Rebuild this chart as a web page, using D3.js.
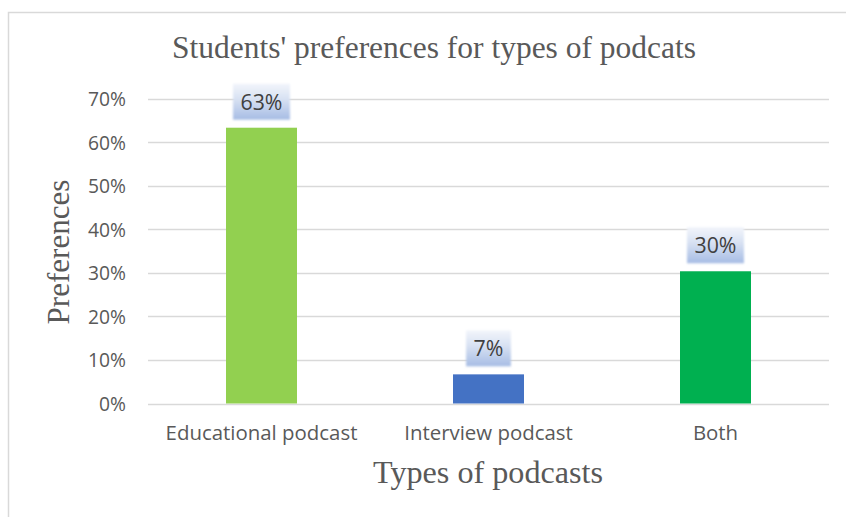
<!DOCTYPE html>
<html><head><meta charset="utf-8">
<script src="https://cdn.jsdelivr.net/npm/d3@7"></script>
<style>html,body{margin:0;padding:0;background:#fff;overflow:hidden}</style>
</head><body>
<script>
const categories = ["Educational podcast", "Interview podcast", "Both"];
const values = [0.634, 0.067, 0.304];
const colors = ["#92D050", "#4472C4", "#00B050"];
const yTicks = [0, 0.1, 0.2, 0.3, 0.4, 0.5, 0.6, 0.7];
const title = "Students' preferences for types of podcats";
const xTitle = "Types of podcasts";
const yTitle = "Preferences";

const W = 846, H = 517;
const svg = d3.select("body").append("svg").attr("width", W).attr("height", H);
const txt = "#595959";
const sans = "'Open Sans', 'Liberation Sans', sans-serif";
const serif = "'Liberation Serif', 'DejaVu Serif', serif";

// chart border
svg.append("rect").attr("x", 8.5).attr("y", 12.5).attr("width", W + 20).attr("height", H + 20)
  .attr("fill", "none").attr("stroke", "#d9d9d9").attr("stroke-width", 1.5);

const x = d3.scaleBand().domain(categories).range([148, 829]).paddingInner(0).paddingOuter(0);
const y = d3.scaleLinear().domain([0, 0.7]).range([403.5, 99]);

function fit(sel, target, base) {
  sel.style("font-size", base + "px");
  const w = sel.node().getComputedTextLength();
  sel.style("font-size", (base * target / w) + "px");
}

// gridlines
svg.append("g").selectAll("line").data(yTicks).join("line")
  .attr("x1", 148).attr("x2", 829)
  .attr("y1", d => Math.round(y(d)) + 0.5).attr("y2", d => Math.round(y(d)) + 0.5)
  .attr("stroke", "#d9d9d9").attr("stroke-width", 1.5);

// y axis labels
const yAxis = d3.axisLeft(y).tickValues(yTicks).tickFormat(d3.format(".0%")).tickSize(0).tickPadding(0);
const ga = svg.append("g").attr("transform", "translate(126,0)").call(yAxis);
ga.select(".domain").remove();
ga.selectAll("text").attr("fill", txt).style("font-family", sans).attr("dy", "0.36em");
const topTick = ga.selectAll("text").filter(d => d === 0.7);
fit(topTick, 38, 18);
ga.selectAll("text").style("font-size", topTick.style("font-size"));

// x axis labels
const xAxis = d3.axisBottom(x).tickSize(0).tickPadding(0);
const gx = svg.append("g").attr("transform", "translate(0,440)").call(xAxis);
gx.select(".domain").remove();
gx.selectAll("text").attr("fill", txt).style("font-family", sans).attr("dy", 0);
const eduLabel = gx.selectAll("text").filter(d => d === categories[0]);
fit(eduLabel, 192, 17);
gx.selectAll("text").style("font-size", eduLabel.style("font-size"));

// bars
const barW = 71;
svg.append("g").selectAll("rect").data(categories).join("rect")
  .attr("x", d => x(d) + x.bandwidth() / 2 - barW / 2)
  .attr("width", barW)
  .attr("y", (d, i) => y(values[i]))
  .attr("height", (d, i) => y(0) - y(values[i]))
  .attr("fill", (d, i) => colors[i]);

// gradient for data labels
const defs = svg.append("defs");
const grad = defs.append("linearGradient").attr("id", "lbl").attr("x1", 0).attr("y1", 0).attr("x2", 0).attr("y2", 1);
grad.append("stop").attr("offset", "0%").attr("stop-color", "#f2f5fb");
grad.append("stop").attr("offset", "45%").attr("stop-color", "#d6e0f2");
grad.append("stop").attr("offset", "100%").attr("stop-color", "#a6bce4");
const blur = defs.append("filter").attr("id", "soft").attr("x", "-20%").attr("y", "-20%").attr("width", "140%").attr("height", "140%");
blur.append("feGaussianBlur").attr("stdDeviation", 0.8);

const fmt = d3.format(".0%");
let lblSize = null;
const lg = svg.append("g").selectAll("g").data(categories).join("g");
lg.each(function (d, i) {
  const g = d3.select(this);
  const cx = x(d) + x.bandwidth() / 2;
  const bottom = y(values[i]) - 8;
  const t = g.append("text").text(fmt(values[i]))
    .attr("fill", "#404040").style("font-family", sans)
    .attr("text-anchor", "middle").attr("x", cx).attr("y", bottom - 10);
  if (lblSize === null) { fit(t, 42, 20); lblSize = t.style("font-size"); }
  t.style("font-size", lblSize);
  const tw = t.node().getComputedTextLength();
  const bw = tw + 15;
  g.insert("rect", "text").attr("x", cx - bw / 2).attr("y", bottom - 36).attr("width", bw).attr("height", 36)
    .attr("fill", "url(#lbl)").attr("filter", "url(#soft)");
});

// title
const tt = svg.append("text").text(title).attr("x", 434).attr("y", 58).attr("text-anchor", "middle")
  .attr("fill", txt).style("font-family", serif);
fit(tt, 524, 26);

// x title
const xt = svg.append("text").text(xTitle).attr("x", 488).attr("y", 483).attr("text-anchor", "middle")
  .attr("fill", txt).style("font-family", serif);
fit(xt, 230, 26);

// y title
const yt = svg.append("text").text(yTitle).attr("transform", "translate(69,252) rotate(-90)").attr("text-anchor", "middle")
  .attr("fill", txt).style("font-family", serif);
fit(yt, 145, 26);
</script>
</body></html>
